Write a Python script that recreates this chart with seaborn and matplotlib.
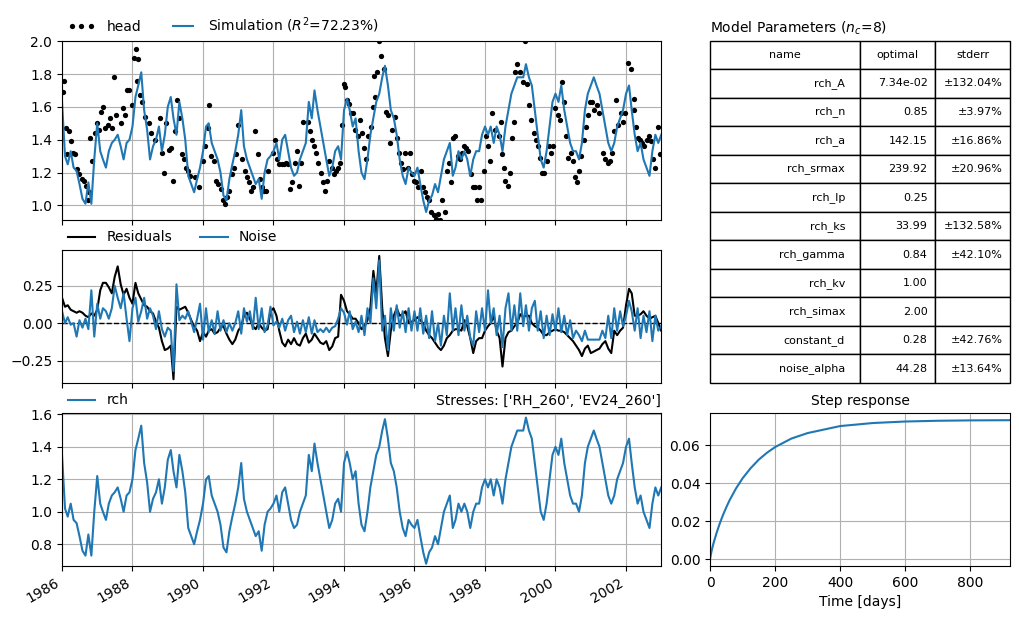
import numpy as np
import pandas as pd
import matplotlib
matplotlib.use('Agg')
import matplotlib.pyplot as plt
import matplotlib.dates as mdates
import seaborn as sns

# ===== Dados =====
months = pd.date_range('1986-01-01', '2003-01-01', freq='MS')

# contribuição da recarga (rch), mensal
rch = [
    1.35, 1.02, 0.97, 1.05, 0.95, 0.93, 0.85, 0.76, 0.73, 0.86, 0.73, 1.00,
    1.22, 1.05, 1.00, 0.95, 1.05, 1.10, 1.12, 1.15, 1.08, 1.00, 1.10, 1.12,
    1.20, 1.38, 1.45, 1.53, 1.30, 1.18, 1.00, 1.08, 1.12, 1.20, 1.05, 1.15,
    1.32, 1.38, 1.25, 1.15, 1.35, 1.25, 1.12, 0.90, 0.85, 0.80, 0.88, 0.95,
    1.05, 1.20, 1.22, 1.10, 1.05, 1.00, 0.92, 0.78, 0.75, 0.88, 0.97, 1.05,
    1.15, 1.30, 1.08, 1.00, 0.95, 0.90, 0.85, 0.88, 0.76, 0.92, 1.00, 1.02,
    1.05, 1.10, 1.00, 1.12, 1.15, 1.05, 0.95, 0.90, 0.92, 1.00, 1.05, 1.10,
    1.35, 1.25, 1.42, 1.30, 1.20, 1.10, 1.00, 0.90, 0.95, 1.05, 1.08, 1.00,
    1.30, 1.37, 1.30, 1.20, 1.25, 1.05, 0.92, 0.88, 1.00, 1.15, 1.25, 1.35,
    1.40, 1.50, 1.57, 1.45, 1.30, 1.25, 1.15, 1.00, 0.90, 0.85, 0.95, 0.92,
    0.90, 0.95, 0.85, 0.75, 0.68, 0.75, 0.78, 0.85, 0.80, 0.90, 1.00, 1.05,
    1.10, 0.90, 0.95, 1.05, 1.00, 1.05, 1.00, 0.90, 1.00, 1.05, 1.05, 1.15,
    1.20, 1.15, 1.20, 1.10, 1.20, 1.15, 1.05, 1.20, 1.30, 1.40, 1.45, 1.50,
    1.50, 1.50, 1.58, 1.50, 1.45, 1.30, 1.15, 1.00, 0.95, 1.05, 1.20, 1.35,
    1.40, 1.35, 1.45, 1.30, 1.20, 1.10, 1.05, 1.05, 1.00, 1.10, 1.30, 1.40,
    1.45, 1.50, 1.45, 1.40, 1.30, 1.20, 1.10, 1.05, 1.10, 1.20, 1.25, 1.30,
    1.40, 1.45, 1.30, 1.15, 1.05, 1.10, 1.00, 0.95, 0.90, 1.05, 1.15, 1.10,
    1.15,
]

# simulação, mensal
simulation = [
    1.63, 1.30, 1.25, 1.33, 1.23, 1.21, 1.13, 1.04, 1.01, 1.14, 1.01, 1.28,
    1.50, 1.33, 1.28, 1.23, 1.33, 1.38, 1.40, 1.43, 1.36, 1.28, 1.38, 1.40,
    1.48, 1.66, 1.73, 1.81, 1.58, 1.46, 1.28, 1.36, 1.40, 1.48, 1.33, 1.43,
    1.60, 1.66, 1.53, 1.43, 1.63, 1.53, 1.40, 1.18, 1.13, 1.08, 1.16, 1.23,
    1.33, 1.48, 1.50, 1.38, 1.33, 1.28, 1.20, 1.06, 1.03, 1.16, 1.25, 1.33,
    1.43, 1.58, 1.36, 1.28, 1.23, 1.18, 1.13, 1.16, 1.04, 1.20, 1.28, 1.30,
    1.33, 1.38, 1.28, 1.40, 1.43, 1.33, 1.23, 1.18, 1.20, 1.28, 1.33, 1.38,
    1.63, 1.53, 1.70, 1.58, 1.48, 1.38, 1.28, 1.18, 1.23, 1.33, 1.36, 1.28,
    1.58, 1.65, 1.58, 1.48, 1.53, 1.33, 1.20, 1.16, 1.28, 1.43, 1.53, 1.63,
    1.68, 1.78, 1.85, 1.73, 1.58, 1.53, 1.43, 1.28, 1.18, 1.13, 1.23, 1.20,
    1.18, 1.23, 1.13, 1.03, 0.96, 1.03, 1.06, 1.13, 1.08, 1.18, 1.28, 1.33,
    1.38, 1.18, 1.23, 1.33, 1.28, 1.33, 1.28, 1.18, 1.28, 1.33, 1.33, 1.43,
    1.48, 1.43, 1.48, 1.38, 1.48, 1.43, 1.33, 1.48, 1.58, 1.68, 1.73, 1.78,
    1.78, 1.78, 1.86, 1.78, 1.73, 1.58, 1.43, 1.28, 1.23, 1.33, 1.48, 1.63,
    1.68, 1.63, 1.73, 1.58, 1.48, 1.38, 1.33, 1.33, 1.28, 1.38, 1.58, 1.68,
    1.73, 1.78, 1.73, 1.68, 1.58, 1.48, 1.38, 1.33, 1.38, 1.48, 1.53, 1.58,
    1.68, 1.73, 1.58, 1.43, 1.33, 1.38, 1.28, 1.23, 1.18, 1.33, 1.43, 1.38,
    1.43,
]

# resíduos e ruído, mensal
residuals = [
    0.17, 0.11, 0.12, 0.09, 0.08, 0.07, 0.08, 0.07, 0.05, 0.04, 0.065, 0.05,
    0.09, 0.22, 0.27, 0.27, 0.24, 0.20, 0.31, 0.38, 0.26, 0.19, 0.23, 0.17,
    0.13, 0.27, 0.20, 0.16, 0.12, 0.11, 0.08, 0.065, 0.01, -0.03, -0.12, -0.18,
    -0.17, -0.15, -0.375, 0.11, 0.09, 0.10, 0.11, 0.07, 0.02, -0.02, -0.05, -0.12,
    -0.06, -0.09, -0.05, -0.04, -0.07, -0.06, -0.03, -0.02, -0.07, -0.11, -0.14, -0.11,
    -0.05, -0.02, 0.05, 0.07, 0.03, -0.02, -0.04, 0.00, -0.03, -0.05, -0.04, 0.08,
    0.10, 0.05, -0.05, -0.13, -0.155, -0.11, -0.14, -0.10, -0.14, -0.15, -0.10, -0.07,
    -0.13, -0.11, -0.07, -0.10, -0.13, -0.14, -0.12, -0.18, -0.155, -0.10, -0.09, 0.19,
    0.15, 0.08, 0.06, 0.03, 0.03, 0.00, -0.04, -0.02, 0.02, 0.10, 0.35, 0.20,
    0.45, 0.10, -0.10, -0.22, -0.05, 0.05, 0.10, 0.05, 0.06, 0.08, 0.00, 0.01,
    0.02, 0.04, 0.02, 0.00, -0.05, -0.08, -0.10, -0.13, -0.16, -0.18, -0.15, -0.10,
    -0.08, -0.05, -0.04, -0.04, -0.05, 0.02, -0.02, -0.10, -0.20, -0.12, -0.10, -0.10,
    -0.05, -0.02, 0.00, 0.05, -0.05, -0.10, -0.29, -0.10, -0.06, -0.05, -0.02, 0.00,
    0.06, 0.04, 0.05, 0.05, 0.00, -0.02, -0.03, -0.05, -0.08, -0.08, -0.06, -0.05,
    -0.04, -0.05, -0.05, -0.06, -0.08, -0.10, -0.12, -0.15, -0.18, -0.22, -0.17, -0.15,
    -0.20, -0.19, -0.18, -0.17, -0.14, -0.12, -0.17, -0.20, -0.05, -0.08, -0.05, -0.03,
    0.12, 0.23, 0.20, 0.05, 0.05, 0.06, 0.08, 0.05, 0.03, 0.04, 0.05, 0.00,
    -0.05,
]

noise = [
    0.08, 0.00, 0.04, -0.01, 0.00, -0.09, 0.02, -0.03, 0.03, -0.04, 0.22, -0.09,
    0.13, 0.03, 0.10, 0.08, 0.03, 0.10, 0.25, 0.17, 0.10, 0.20, 0.03, -0.12,
    0.10, 0.17, 0.01, 0.08, 0.17, 0.03, 0.10, 0.05, -0.04, 0.08, -0.04, -0.09,
    -0.03, -0.05, -0.32, 0.26, 0.02, 0.05, 0.03, 0.08, 0.01, -0.06, 0.03, 0.13,
    -0.11, 0.10, -0.06, 0.02, -0.07, 0.08, -0.05, 0.02, -0.06, 0.00, -0.05, 0.00,
    0.08, -0.07, 0.10, 0.01, 0.08, -0.04, 0.17, -0.04, 0.10, -0.06, -0.015, 0.11,
    -0.015, 0.01, -0.03, 0.03, -0.05, 0.02, 0.05, -0.06, 0.01, -0.07, 0.02, -0.06,
    0.04, -0.07, 0.02, -0.06, -0.04, -0.06, -0.03, -0.06, -0.03, -0.02, 0.03, 0.10,
    0.07, -0.01, 0.08, -0.04, 0.01, -0.06, 0.05, -0.08, 0.10, 0.00, 0.30, 0.10,
    0.42, -0.05, 0.05, -0.18, 0.10, -0.05, 0.12, -0.03, 0.08, -0.06, 0.10, -0.05,
    0.08, -0.05, 0.10, -0.07, 0.05, -0.10, 0.08, -0.12, 0.00, -0.15, 0.05, -0.08,
    0.20, -0.05, 0.10, -0.08, 0.12, -0.05, 0.05, -0.10, -0.15, 0.08, -0.06, 0.10,
    -0.05, 0.22, 0.00, 0.10, -0.08, 0.05, -0.16, 0.10, 0.20, -0.05, 0.12, -0.05,
    0.20, -0.02, 0.12, -0.05, 0.10, 0.15, -0.05, 0.08, -0.10, 0.05, -0.08, 0.06,
    -0.05, 0.10, -0.06, 0.05, -0.08, 0.02, -0.10, -0.05, -0.08, -0.12, -0.05, -0.11,
    -0.11, -0.11, -0.11, -0.11, -0.05, -0.10, 0.05, -0.10, 0.10, -0.05, 0.08, -0.02,
    0.05, 0.15, 0.08, -0.05, 0.10, -0.10, 0.05, -0.06, 0.08, -0.12, 0.05, -0.05,
    -0.02,
]

# observações de nível (head): ano decimal e valor
head_year = [
    1986.025, 1986.062, 1986.099, 1986.148, 1986.210, 1986.247, 1986.308, 1986.370,
    1986.432, 1986.493, 1986.555, 1986.617, 1986.678, 1986.740, 1986.777, 1986.801,
    1986.863, 1986.925, 1986.986,
    1987.048, 1987.110, 1987.171, 1987.233, 1987.295, 1987.356, 1987.418, 1987.480,
    1987.541, 1987.665, 1987.726, 1987.788, 1987.850, 1987.911, 1987.973,
    1988.035, 1988.096, 1988.133, 1988.158, 1988.219, 1988.281, 1988.343, 1988.466,
    1988.528, 1988.651, 1988.774, 1988.836, 1988.898, 1988.959,
    1989.021, 1989.083, 1989.144, 1989.206, 1989.268, 1989.329, 1989.391, 1989.453,
    1989.514, 1989.576, 1989.637, 1989.761, 1989.884,
    1990.007, 1990.069, 1990.131, 1990.168, 1990.229, 1990.316, 1990.377, 1990.439,
    1990.501, 1990.562, 1990.624, 1990.686, 1990.747, 1990.809, 1990.871, 1990.932,
    1990.994,
    1991.117, 1991.179, 1991.240, 1991.302, 1991.364, 1991.425, 1991.487, 1991.549,
    1991.610, 1991.672, 1991.734, 1991.795, 1991.857, 1991.980,
    1992.042, 1992.104, 1992.165, 1992.227, 1992.289, 1992.350, 1992.412, 1992.473,
    1992.535, 1992.597, 1992.658, 1992.720, 1992.782, 1992.843, 1992.967,
    1993.028, 1993.090, 1993.152, 1993.213, 1993.275, 1993.337, 1993.398, 1993.460,
    1993.522, 1993.583, 1993.645, 1993.707, 1993.768, 1993.830, 1993.891, 1993.953,
    1993.990,
    1994.039, 1994.076, 1994.138, 1994.200, 1994.261, 1994.323, 1994.385, 1994.446,
    1994.508, 1994.570, 1994.631, 1994.693, 1994.755, 1994.816, 1994.841, 1994.878,
    1994.939,
    1995.001, 1995.062, 1995.124, 1995.186, 1995.248, 1995.309, 1995.371, 1995.433,
    1995.494, 1995.556, 1995.618, 1995.679, 1995.741, 1995.803, 1995.864, 1995.926,
    1995.988,
    1996.049, 1996.111, 1996.173, 1996.234, 1996.296, 1996.357, 1996.419, 1996.481,
    1996.542, 1996.604, 1996.666, 1996.727, 1996.789, 1996.851, 1996.912, 1996.974,
    1997.036, 1997.097, 1997.159, 1997.221, 1997.282, 1997.344, 1997.405, 1997.467,
    1997.529, 1997.590, 1997.652, 1997.714, 1997.775, 1997.837, 1997.899, 1997.960,
    1998.022, 1998.084, 1998.145, 1998.207, 1998.269, 1998.392, 1998.454, 1998.491,
    1998.540, 1998.577, 1998.639, 1998.700, 1998.762, 1998.824, 1998.861, 1998.910,
    1998.984,
    1999.070, 1999.132, 1999.194, 1999.255, 1999.317, 1999.379, 1999.440, 1999.502,
    1999.563, 1999.625, 1999.687, 1999.748, 1999.810, 1999.872, 1999.933, 1999.995,
    2000.057, 2000.118, 2000.180, 2000.242, 2000.303, 2000.365, 2000.427, 2000.488,
    2000.550, 2000.612, 2000.673, 2000.735, 2000.797, 2000.858, 2000.920, 2000.982,
    2001.043, 2001.105, 2001.166, 2001.228, 2001.352, 2001.413, 2001.475, 2001.536,
    2001.598, 2001.660, 2001.721, 2001.783, 2001.845, 2001.906, 2001.968,
    2002.067, 2002.153, 2002.215, 2002.240, 2002.276, 2002.338, 2002.400, 2002.462,
    2002.523, 2002.585, 2002.646, 2002.708, 2002.770, 2002.832, 2002.894, 2002.955,
]
head = [
    1.69, 1.755, 1.47, 1.31, 1.45, 1.39, 1.32, 1.31,
    1.22, 1.19, 1.16, 1.15, 1.12, 1.03, 1.08, 1.41,
    1.27, 1.44, 1.50,
    1.46, 1.57, 1.60, 1.47, 1.49, 1.53, 1.47, 1.78,
    1.55, 1.50, 1.59, 1.55, 1.70, 1.70, 1.61,
    1.90, 1.95, 1.76, 1.89, 1.67, 1.63, 1.54, 1.50,
    1.44, 1.40, 1.53, 1.32, 1.20, 1.50,
    1.34, 1.35, 1.15, 1.45, 1.64, 1.53, 1.31, 1.28,
    1.23, 1.21, 1.18, 1.17, 1.11,
    1.27, 1.36, 1.47, 1.61, 1.30, 1.27, 1.15, 1.13,
    1.10, 1.03, 1.01, 1.05, 1.09, 1.19, 1.23, 1.31,
    1.49,
    1.28, 1.21, 1.17, 1.14, 1.09, 1.11, 1.45, 1.31,
    1.16, 1.11, 1.09, 1.09, 1.21, 1.32,
    1.40, 1.28, 1.25, 1.25, 1.25, 1.26, 1.25, 1.10,
    1.14, 1.26, 1.33, 1.12, 1.26, 1.51, 1.51,
    1.45, 1.40, 1.36, 1.32, 1.26, 1.20, 1.14, 1.09,
    1.15, 1.27, 1.23, 1.19, 1.21, 1.23, 1.26, 1.49,
    1.74,
    1.72, 1.64, 1.62, 1.56, 1.56, 1.46, 1.42, 1.52,
    1.44, 1.35, 1.28, 1.42, 1.48, 1.60, 1.79, 1.66,
    1.81,
    2.00, 1.91, 1.83, 1.57, 1.55, 1.38, 1.46, 1.54,
    1.41, 1.32, 1.26, 1.22, 1.32, 1.23, 1.32, 1.19,
    1.15,
    1.14, 1.11, 1.21, 1.11, 1.08, 1.05, 1.03, 0.96,
    0.94, 0.92, 0.95, 0.91, 1.03, 0.96, 1.21, 1.26,
    1.14, 1.41, 1.42, 1.30, 1.28, 1.32, 1.36, 1.35,
    1.33, 1.19, 1.11, 1.11, 1.03, 1.11, 1.03, 1.21,
    1.42, 1.36, 1.27, 1.56, 1.46, 1.42, 1.51, 1.31,
    1.23, 1.15, 1.12, 1.20, 1.41, 1.51, 1.81, 1.86,
    1.81,
    1.75, 2.00, 1.74, 1.61, 1.52, 1.44, 1.40, 1.36,
    1.29, 1.20, 1.20, 1.27, 1.36, 1.32, 1.36, 1.59,
    1.55, 1.52, 1.75, 1.63, 1.42, 1.29, 1.32, 1.27,
    1.17, 1.14, 1.21, 1.30, 1.40, 1.48, 1.55, 1.63,
    1.63, 1.58, 1.61, 1.56, 1.32, 1.28, 1.26, 1.27,
    1.32, 1.45, 1.64, 1.49, 1.56, 1.51, 1.56,
    1.87, 1.83, 1.65, 1.58, 1.48, 1.41, 1.40, 1.38,
    1.36, 1.40, 1.42, 1.39, 1.28, 1.23, 1.48, 1.31,
]

# resposta ao degrau
step_days = [0, 5, 10, 20, 30, 40, 50, 60, 80, 100, 125, 150, 175, 200,
             250, 300, 400, 500, 600, 700, 800, 922]
step_response = [0.0, 0.0044, 0.0079, 0.0137, 0.0188, 0.0233, 0.0273, 0.0310,
                 0.0373, 0.0426, 0.0480, 0.0525, 0.0561, 0.0591, 0.0636,
                 0.0665, 0.0702, 0.0718, 0.0726, 0.0730, 0.0732, 0.0733]

# tabela de parâmetros
param_names = ['rch_A', 'rch_n', 'rch_a', 'rch_srmax', 'rch_lp', 'rch_ks',
               'rch_gamma', 'rch_kv', 'rch_simax', 'constant_d', 'noise_alpha']
param_optimal = ['7.34e-02', '0.85', '142.15', '239.92', '0.25', '33.99',
                 '0.84', '1.00', '2.00', '0.28', '44.28']
param_stderr = ['±132.04%', '±3.97%', '±16.86%', '±20.96%', '', '±132.58%',
                '±42.10%', '', '', '±42.76%', '±13.64%']
r2 = 72.23
n_c = 8
stresses = ['RH_260', 'EV24_260']

head_dates = pd.Timestamp('1986-01-01') + pd.to_timedelta(
    (np.array(head_year) - 1986.0) * 365.25, unit='D')

# ===== Figura =====
fig = plt.figure(figsize=(10.2, 6.19), dpi=100)
ax1 = fig.add_axes([0.0608, 0.6446, 0.5873, 0.2897])
ax2 = fig.add_axes([0.0608, 0.3813, 0.5873, 0.2149], sharex=ax1)
ax3 = fig.add_axes([0.0608, 0.0856, 0.5873, 0.2472], sharex=ax1)
ax_tab = fig.add_axes([0.6961, 0.3813, 0.2941, 0.5530])
ax_step = fig.add_axes([0.6961, 0.0856, 0.2941, 0.2472])

# observações e simulação
sns.lineplot(x=head_dates, y=head, ax=ax1, color='k', linestyle='',
             marker='o', markersize=3.8, markeredgewidth=0, label='head')
sns.lineplot(x=months, y=simulation, ax=ax1, color='C0', linewidth=1.5,
             label=f'Simulation ($R^2$={r2:.2f}%)')
ax1.set_ylim(0.911, 2.003)
ax1.legend(loc=(0, 1), ncol=3, frameon=False, numpoints=3)

# resíduos e ruído
ax2.axhline(0, color='k', linestyle='--', linewidth=1)
sns.lineplot(x=months, y=residuals, ax=ax2, color='k', linewidth=1.5,
             label='Residuals')
sns.lineplot(x=months, y=noise, ax=ax2, color='C0', linewidth=1.5,
             label='Noise')
ax2.set_ylim(-0.40, 0.49)
ax2.legend(loc=(0, 1), ncol=3, frameon=False)

# contribuição rch
sns.lineplot(x=months, y=rch, ax=ax3, color='C0', linewidth=1.5, label='rch')
ax3.set_ylim(0.666, 1.608)
ax3.legend(loc=(0, 1), ncol=3, frameon=False)
ax3.set_title(f'Stresses: {stresses}', loc='right', fontsize=10)

for ax in (ax1, ax2, ax3):
    ax.grid(True)
    ax.set_xlabel('')
    ax.set_ylabel('')
ax1.set_xlim(pd.Timestamp('1986-01-01'), pd.Timestamp('2002-12-30'))
ax3.xaxis.set_major_locator(mdates.YearLocator(2))
ax3.xaxis.set_major_formatter(mdates.DateFormatter('%Y'))
plt.setp(ax1.get_xticklabels(), visible=False)
plt.setp(ax2.get_xticklabels(), visible=False)
plt.setp(ax3.get_xticklabels(), rotation=30, ha='right')

# resposta ao degrau
sns.lineplot(x=step_days, y=step_response, ax=ax_step, color='C0', linewidth=1.5)
ax_step.set_xlim(0, 922)
ax_step.set_ylim(-0.0037, 0.0771)
ax_step.set_title('Step response', fontsize=10)
ax_step.set_xlabel('Time [days]')
ax_step.set_ylabel('')
ax_step.grid(True)

# tabela de parâmetros
ax_tab.axis('off')
ax_tab.set_title(f'Model Parameters ($n_c$={n_c})', loc='left', fontsize=10)
cells = [[n, o, s] for n, o, s in zip(param_names, param_optimal, param_stderr)]
table = ax_tab.table(cellText=cells, colLabels=['name', 'optimal', 'stderr'],
                     cellLoc='right', colLoc='center', bbox=[0, 0, 1, 1],
                     colWidths=[0.5, 0.25, 0.25])
table.auto_set_font_size(False)
table.set_fontsize(8)

plt.savefig('out.png', dpi=100)
